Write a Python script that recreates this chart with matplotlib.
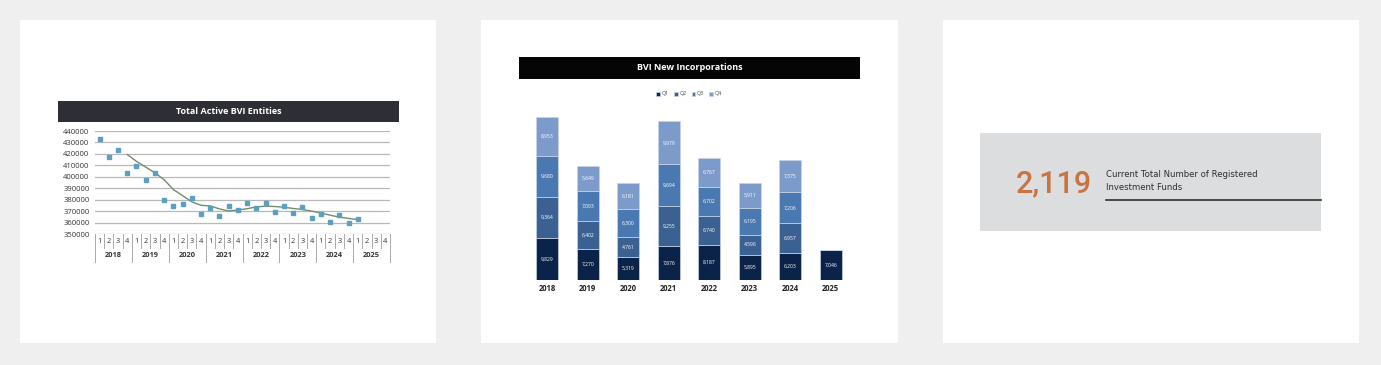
import numpy as np
import pandas as pd
import matplotlib
matplotlib.use("Agg")
import matplotlib.pyplot as plt
from matplotlib.patches import Rectangle
from matplotlib.lines import Line2D
import matplotlib.transforms as mtransforms

plt.rcParams['font.family'] = ['Open Sans', 'DejaVu Sans']

# datos: entidades activas (trimestral, 2018 Q1 .. 2025 Q1)
active_years = ['2018', '2019', '2020', '2021', '2022', '2023', '2024', '2025']
active_q = ['1', '2', '3', '4']
active_entities = [433300, 417400, 423300, 403600,
                   409500, 397500, 403300, 379600,
                   374900, 376400, 381600, 367300,
                   372800, 366100, 374300, 370800,
                   377200, 372300, 377200, 369300,
                   374600, 368200, 373400, 363800,
                   367900, 360800, 366400, 359400,
                   363500]

# datos: nuevas incorporaciones por trimestre
inc_years = ['2018', '2019', '2020', '2021', '2022', '2023', '2024', '2025']
inc_q1 = [9829, 7270, 5319, 7876, 8187, 5895, 6203, 7046]
inc_q2 = [9364, 6402, 4761, 9255, 6740, 4596, 6957, 0]
inc_q3 = [9680, 7093, 6300, 9694, 6702, 6195, 7206, 0]
inc_q4 = [8953, 5649, 6181, 9979, 6767, 5911, 7375, 0]
inc_labels = ['Q1', 'Q2', 'Q3', 'Q4']
inc_colors = ['#0b2348', '#3a6192', '#4a78b1', '#7d9bca']

funds_total = '2,119'
funds_text = 'Current Total Number of Registered\nInvestment Funds'

W, H = 1381, 365
fig = plt.figure(figsize=(W / 100, H / 100), dpi=100, facecolor='#efefef')


def rect(x0, y0, x1, y1):
    return [x0 / W, 1 - y1 / H, (x1 - x0) / W, (y1 - y0) / H]


def box(x0, y0, x1, y1, color, z=0):
    fig.patches.append(Rectangle((x0 / W, 1 - y1 / H), (x1 - x0) / W, (y1 - y0) / H,
                                 transform=fig.transFigure, facecolor=color,
                                 edgecolor='none', zorder=z))


# paneles blancos
box(20, 20, 436, 343, 'white')
box(481, 20, 898, 343, 'white')
box(943, 20, 1359, 343, 'white')

# ---------------- panel 1 ----------------
box(58, 101, 399, 122, '#2e2f35', 1)
fig.text((58 + 399) / 2 / W, 1 - 111.5 / H, 'Total Active BVI Entities', color='white',
         fontsize=6.5, fontweight='bold', ha='center', va='center')

ax1 = fig.add_axes(rect(95, 131, 390, 234))
ax1.set_zorder(5)
ax1.patch.set_alpha(0)
s = pd.Series(active_entities)
xs = np.arange(len(s))
ax1.plot(xs, s.rolling(4).mean(), color='#738c6c', lw=1, zorder=3)
ax1.plot(xs, s, ls='none', marker='s', ms=2.8, color='#5d9fc0', zorder=4)
ax1.set_xlim(-0.5, len(active_years) * 4 - 0.5)
ax1.set_ylim(350000, 440000)
ax1.set_yticks(np.arange(350000, 440001, 10000))
ax1.yaxis.grid(True, color='#b8b8b8', lw=0.9)
ax1.set_axisbelow(True)
ax1.tick_params(axis='y', length=0, labelsize=5.5, labelcolor='#333333', pad=4)
ax1.tick_params(axis='x', length=0, labelbottom=False)
for sp in ax1.spines.values():
    sp.set_visible(False)

tr = mtransforms.blended_transform_factory(ax1.transData, ax1.transAxes)
for i, yr in enumerate(active_years):
    for j, q in enumerate(active_q):
        k = i * 4 + j
        ax1.text(k, -0.07, q, transform=tr, fontsize=5.3, color='#333333',
                 ha='center', va='center', clip_on=False)
        ax1.add_line(Line2D([k - 0.5, k - 0.5], [0, -0.136 if j else -0.272],
                            transform=tr, color='#aaaaaa', lw=0.7, clip_on=False))
    ax1.text(i * 4 + 1.5, -0.205, yr, transform=tr, fontsize=5.3, color='#333333',
             fontweight='bold', ha='center', va='center', clip_on=False)
end = len(active_years) * 4 - 0.5
ax1.add_line(Line2D([end, end], [0, -0.272], transform=tr, color='#aaaaaa', lw=0.7,
                    clip_on=False))

# ---------------- panel 2 ----------------
box(519, 57, 860, 79, '#050505', 1)
fig.text((519 + 860) / 2 / W, 1 - 68 / H, 'BVI New Incorporations', color='white',
         fontsize=6.5, fontweight='bold', ha='center', va='center')

ax2 = fig.add_axes(rect(527, 107.6, 851, 280))
ax2.set_zorder(5)
ax2.patch.set_alpha(0)
xb = np.arange(len(inc_years))
bottom = np.zeros(len(inc_years))
handles = []
for vals, lab, col in zip([inc_q1, inc_q2, inc_q3, inc_q4], inc_labels, inc_colors):
    v = np.array(vals, dtype=float)
    b = ax2.bar(xb, v, 0.55, bottom=bottom, color=col, edgecolor='#c7d4e8', lw=0.5,
                label=lab)
    handles.append(b)
    for x, h, b0 in zip(xb, v, bottom):
        if h > 0:
            ax2.text(x, b0 + h / 2, f'{int(h):,}', color='white', fontsize=3.6,
                     ha='center', va='center')
    bottom += v
ax2.set_xlim(-0.5, len(inc_years) - 0.5)
ax2.set_ylim(0, 40000)
ax2.set_xticks(xb)
ax2.set_xticklabels(inc_years, fontsize=5.5, fontweight='bold', color='#222222')
ax2.tick_params(axis='x', length=0, pad=3)
ax2.set_yticks([])
for sp in ax2.spines.values():
    sp.set_visible(False)
ax2.legend(handles=handles, loc='center', bbox_to_anchor=(689 / W, 1 - 94 / H),
           bbox_transform=fig.transFigure, ncol=4, frameon=False, fontsize=3.8,
           handlelength=0.7, handleheight=0.7, handletextpad=0.3, columnspacing=1.0,
           labelcolor='#444444')

# ---------------- panel 3 ----------------
box(980, 133, 1321, 231, '#dcdddf', 1)
fig.text(1054 / W, 1 - 184 / H, funds_total, color='#c87341', fontsize=22,
         fontfamily=['Roboto', 'DejaVu Sans'], fontweight='medium',
         ha='center', va='center', zorder=3)
fig.text(1106 / W, 1 - 181 / H, funds_text, color='#2e2e2e', fontsize=6.1,
         fontfamily=['DejaVu Sans'], ha='left', va='center', linespacing=1.45, zorder=3)
fig.add_artist(Line2D([1106 / W, 1321 / W], [1 - 200 / H, 1 - 200 / H],
                      transform=fig.transFigure, color='#2f2f2f', lw=1.2, zorder=3))

fig.savefig('out.png', dpi=100, facecolor=fig.get_facecolor())
